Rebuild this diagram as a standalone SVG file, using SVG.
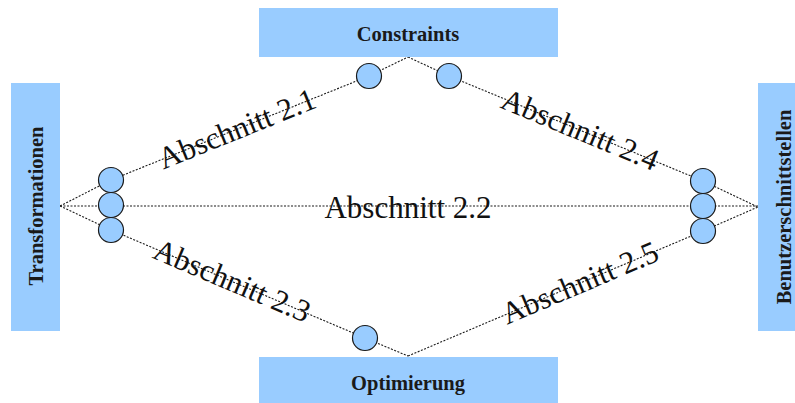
<svg xmlns="http://www.w3.org/2000/svg" width="795" height="403" viewBox="0 0 795 403">
  <style>
    .box { fill: #99ccff; }
    .boxlabel { font-family: "Liberation Serif", "Times New Roman", serif; font-weight: bold; font-size: 20.5px; fill: #1a1a1a; text-anchor: middle; }
    .port { fill: #99ccff; stroke: #1a1a1a; stroke-width: 1.2; }
    .link { fill: none; stroke: #1a1a1a; stroke-width: 1.1; stroke-dasharray: 2 1.5; }
    .section { font-family: "Liberation Serif", "Times New Roman", serif; font-size: 31px; fill: #111; text-anchor: middle; }
  </style>

  <g id="connectors">
    <!-- upper left: Transformationen -> Constraints -->
    <polyline class="link" points="60,206 111,180 369,76 408,57"/>
    <!-- upper right: Constraints -> Benutzerschnittstellen -->
    <polyline class="link" points="408,57 449,76 703,181 758,207"/>
    <!-- middle: Transformationen -> Benutzerschnittstellen -->
    <polyline class="link" points="60,206 758,206"/>
    <!-- lower left: Transformationen -> Optimierung -->
    <polyline class="link" points="60,206 111,230 365,338 408,356"/>
    <!-- lower right: Optimierung -> Benutzerschnittstellen -->
    <polyline class="link" points="408,356 703,231 758,207"/>
  </g>

  <g id="labels">
    <text class="section" transform="translate(237,129) rotate(-22)" y="10">Abschnitt 2.1</text>
    <text class="section" x="408" y="218">Abschnitt 2.2</text>
    <text class="section" transform="translate(232,281) rotate(23)" y="10">Abschnitt 2.3</text>
    <text class="section" transform="translate(580,130) rotate(22.5)" y="10">Abschnitt 2.4</text>
    <text class="section" transform="translate(580,283) rotate(-23)" y="10">Abschnitt 2.5</text>
  </g>

  <g id="constraints">
    <rect class="box" x="259" y="8" width="299" height="49"/>
    <text class="boxlabel" x="408" y="41">Constraints</text>
    <circle class="port" cx="369" cy="76" r="12.5"/>
    <circle class="port" cx="449" cy="76" r="12.5"/>
  </g>

  <g id="transformationen">
    <rect class="box" x="11" y="83" width="49" height="248"/>
    <text class="boxlabel" transform="translate(43,206) rotate(-90)">Transformationen</text>
    <circle class="port" cx="111" cy="180" r="12.5"/>
    <circle class="port" cx="111" cy="205" r="12.5"/>
    <circle class="port" cx="111" cy="230" r="12.5"/>
  </g>

  <g id="benutzerschnittstellen">
    <rect class="box" x="758" y="83" width="49" height="248"/>
    <text class="boxlabel" transform="translate(791,207) rotate(-90)">Benutzerschnittstellen</text>
    <circle class="port" cx="703" cy="181" r="12.5"/>
    <circle class="port" cx="703" cy="206" r="12.5"/>
    <circle class="port" cx="703" cy="231" r="12.5"/>
  </g>

  <g id="optimierung">
    <rect class="box" x="259" y="357" width="299" height="49"/>
    <text class="boxlabel" x="408" y="390">Optimierung</text>
    <circle class="port" cx="365" cy="338" r="12.5"/>
  </g>
</svg>
